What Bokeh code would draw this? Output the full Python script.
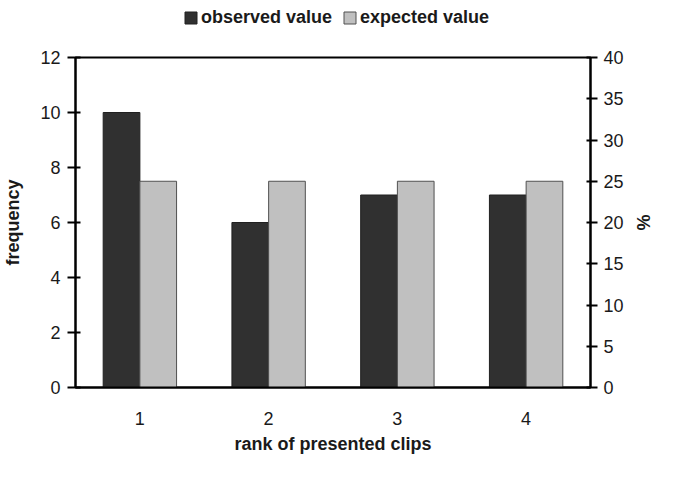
from bokeh.plotting import figure
from bokeh.models import (ColumnDataSource, FactorRange, Range1d, LinearAxis,
                          FixedTicker, Legend, LegendItem)
from bokeh.layouts import column
from bokeh.transform import dodge
from bokeh.embed import file_html
from bokeh.resources import INLINE

# ---- data ----
ranks = ["1", "2", "3", "4"]
observed = [10, 6, 7, 7]
expected = [7.5, 7.5, 7.5, 7.5]
freq_ticks = [0, 2, 4, 6, 8, 10, 12]
pct_ticks = [0, 5, 10, 15, 20, 25, 30, 35, 40]
series_names = ["observed value", "expected value"]

FONT = "Liberation Sans"
TXT = "#1a1a1a"
OBS_FILL, OBS_LINE = "#303030", "#202020"
EXP_FILL, EXP_LINE = "#c0c0c0", "#505050"

W = 655
L_BORDER, R_BORDER = 71, 51

src = ColumnDataSource(dict(rank=ranks, observed=observed, expected=expected))

# ---- legend strip on top ----
lg = figure(width=W, height=34, x_range=FactorRange(*ranks), y_range=Range1d(100, 101),
            output_backend="svg", toolbar_location=None,
            x_axis_location=None, y_axis_location=None,
            min_border_left=L_BORDER, min_border_right=R_BORDER,
            min_border_top=0, min_border_bottom=0)
lg.xgrid.visible = False
lg.ygrid.visible = False
lg.outline_line_color = None
l1 = lg.vbar(x="rank", top="observed", width=0.285, source=src,
             fill_color=OBS_FILL, line_color=OBS_LINE)
l2 = lg.vbar(x="rank", top="expected", width=0.285, source=src,
             fill_color=EXP_FILL, line_color=EXP_LINE)
legend = Legend(items=[LegendItem(label=series_names[0], renderers=[l1]),
                       LegendItem(label=series_names[1], renderers=[l2])],
                orientation="horizontal", location=(108, 6),
                padding=0, margin=0, spacing=10, label_standoff=3,
                glyph_width=15, glyph_height=15,
                border_line_color=None, background_fill_alpha=0,
                label_text_font=FONT, label_text_font_style="bold",
                label_text_font_size="18px", label_text_color=TXT)
lg.add_layout(legend, "center")

# ---- main chart ----
p = figure(width=W, height=422,
           x_range=FactorRange(*ranks), y_range=Range1d(0, 12),
           output_backend="svg", toolbar_location=None,
           min_border_left=L_BORDER, min_border_right=R_BORDER,
           min_border_top=23, min_border_bottom=62)
p.extra_y_ranges = {"pct": Range1d(0, 40)}

p.vbar(x=dodge("rank", -0.1425, range=p.x_range), top="observed", width=0.285,
       source=src, fill_color=OBS_FILL, line_color=OBS_LINE, line_width=1)
p.vbar(x=dodge("rank", 0.1425, range=p.x_range), top="expected", width=0.285,
       source=src, fill_color=EXP_FILL, line_color=EXP_LINE, line_width=1)

p.xgrid.visible = False
p.ygrid.visible = False
p.outline_line_color = "black"
p.outline_line_width = 2
p.background_fill_color = "white"
p.border_fill_color = "white"

# x axis
xa = p.xaxis[0]
xa.axis_label = "rank of presented clips"
xa.axis_line_width = 2
xa.axis_line_color = "black"
xa.major_tick_line_color = None
xa.major_tick_out = 0
xa.major_tick_in = 0
xa.minor_tick_line_color = None
xa.major_label_standoff = 24
xa.major_label_text_font = FONT
xa.major_label_text_font_size = "18px"
xa.major_label_text_color = TXT
xa.axis_label_text_font = FONT
xa.axis_label_text_font_style = "bold"
xa.axis_label_text_font_size = "18px"
xa.axis_label_text_color = TXT
xa.axis_label_standoff = 6

# left axis
ya = p.yaxis[0]
ya.ticker = FixedTicker(ticks=freq_ticks)
ya.axis_label = "frequency"
ya.axis_line_width = 2
ya.axis_line_color = "black"
ya.major_tick_line_width = 2
ya.major_tick_line_color = "black"
ya.major_tick_out = 8
ya.major_tick_in = 5
ya.minor_tick_line_color = None
ya.major_label_standoff = 7
ya.major_label_text_font = FONT
ya.major_label_text_font_size = "18px"
ya.major_label_text_color = TXT
ya.axis_label_text_font = FONT
ya.axis_label_text_font_style = "bold"
ya.axis_label_text_font_size = "18px"
ya.axis_label_text_color = TXT
ya.axis_label_standoff = 14

# right axis
ra = LinearAxis(y_range_name="pct", ticker=FixedTicker(ticks=pct_ticks), axis_label="%")
ra.axis_line_width = 2
ra.axis_line_color = "black"
ra.major_tick_line_width = 2
ra.major_tick_line_color = "black"
ra.major_tick_out = 7
ra.major_tick_in = 4
ra.minor_tick_line_color = None
ra.major_label_standoff = 6
ra.major_label_text_font = FONT
ra.major_label_text_font_size = "18px"
ra.major_label_text_color = TXT
ra.axis_label_text_font = FONT
ra.axis_label_text_font_style = "bold"
ra.axis_label_text_font_size = "18px"
ra.axis_label_text_color = TXT
ra.axis_label_standoff = 6
p.add_layout(ra, "right")

layout = column(lg, p, spacing=0)
open("out.html", "w").write(file_html(layout, INLINE))
